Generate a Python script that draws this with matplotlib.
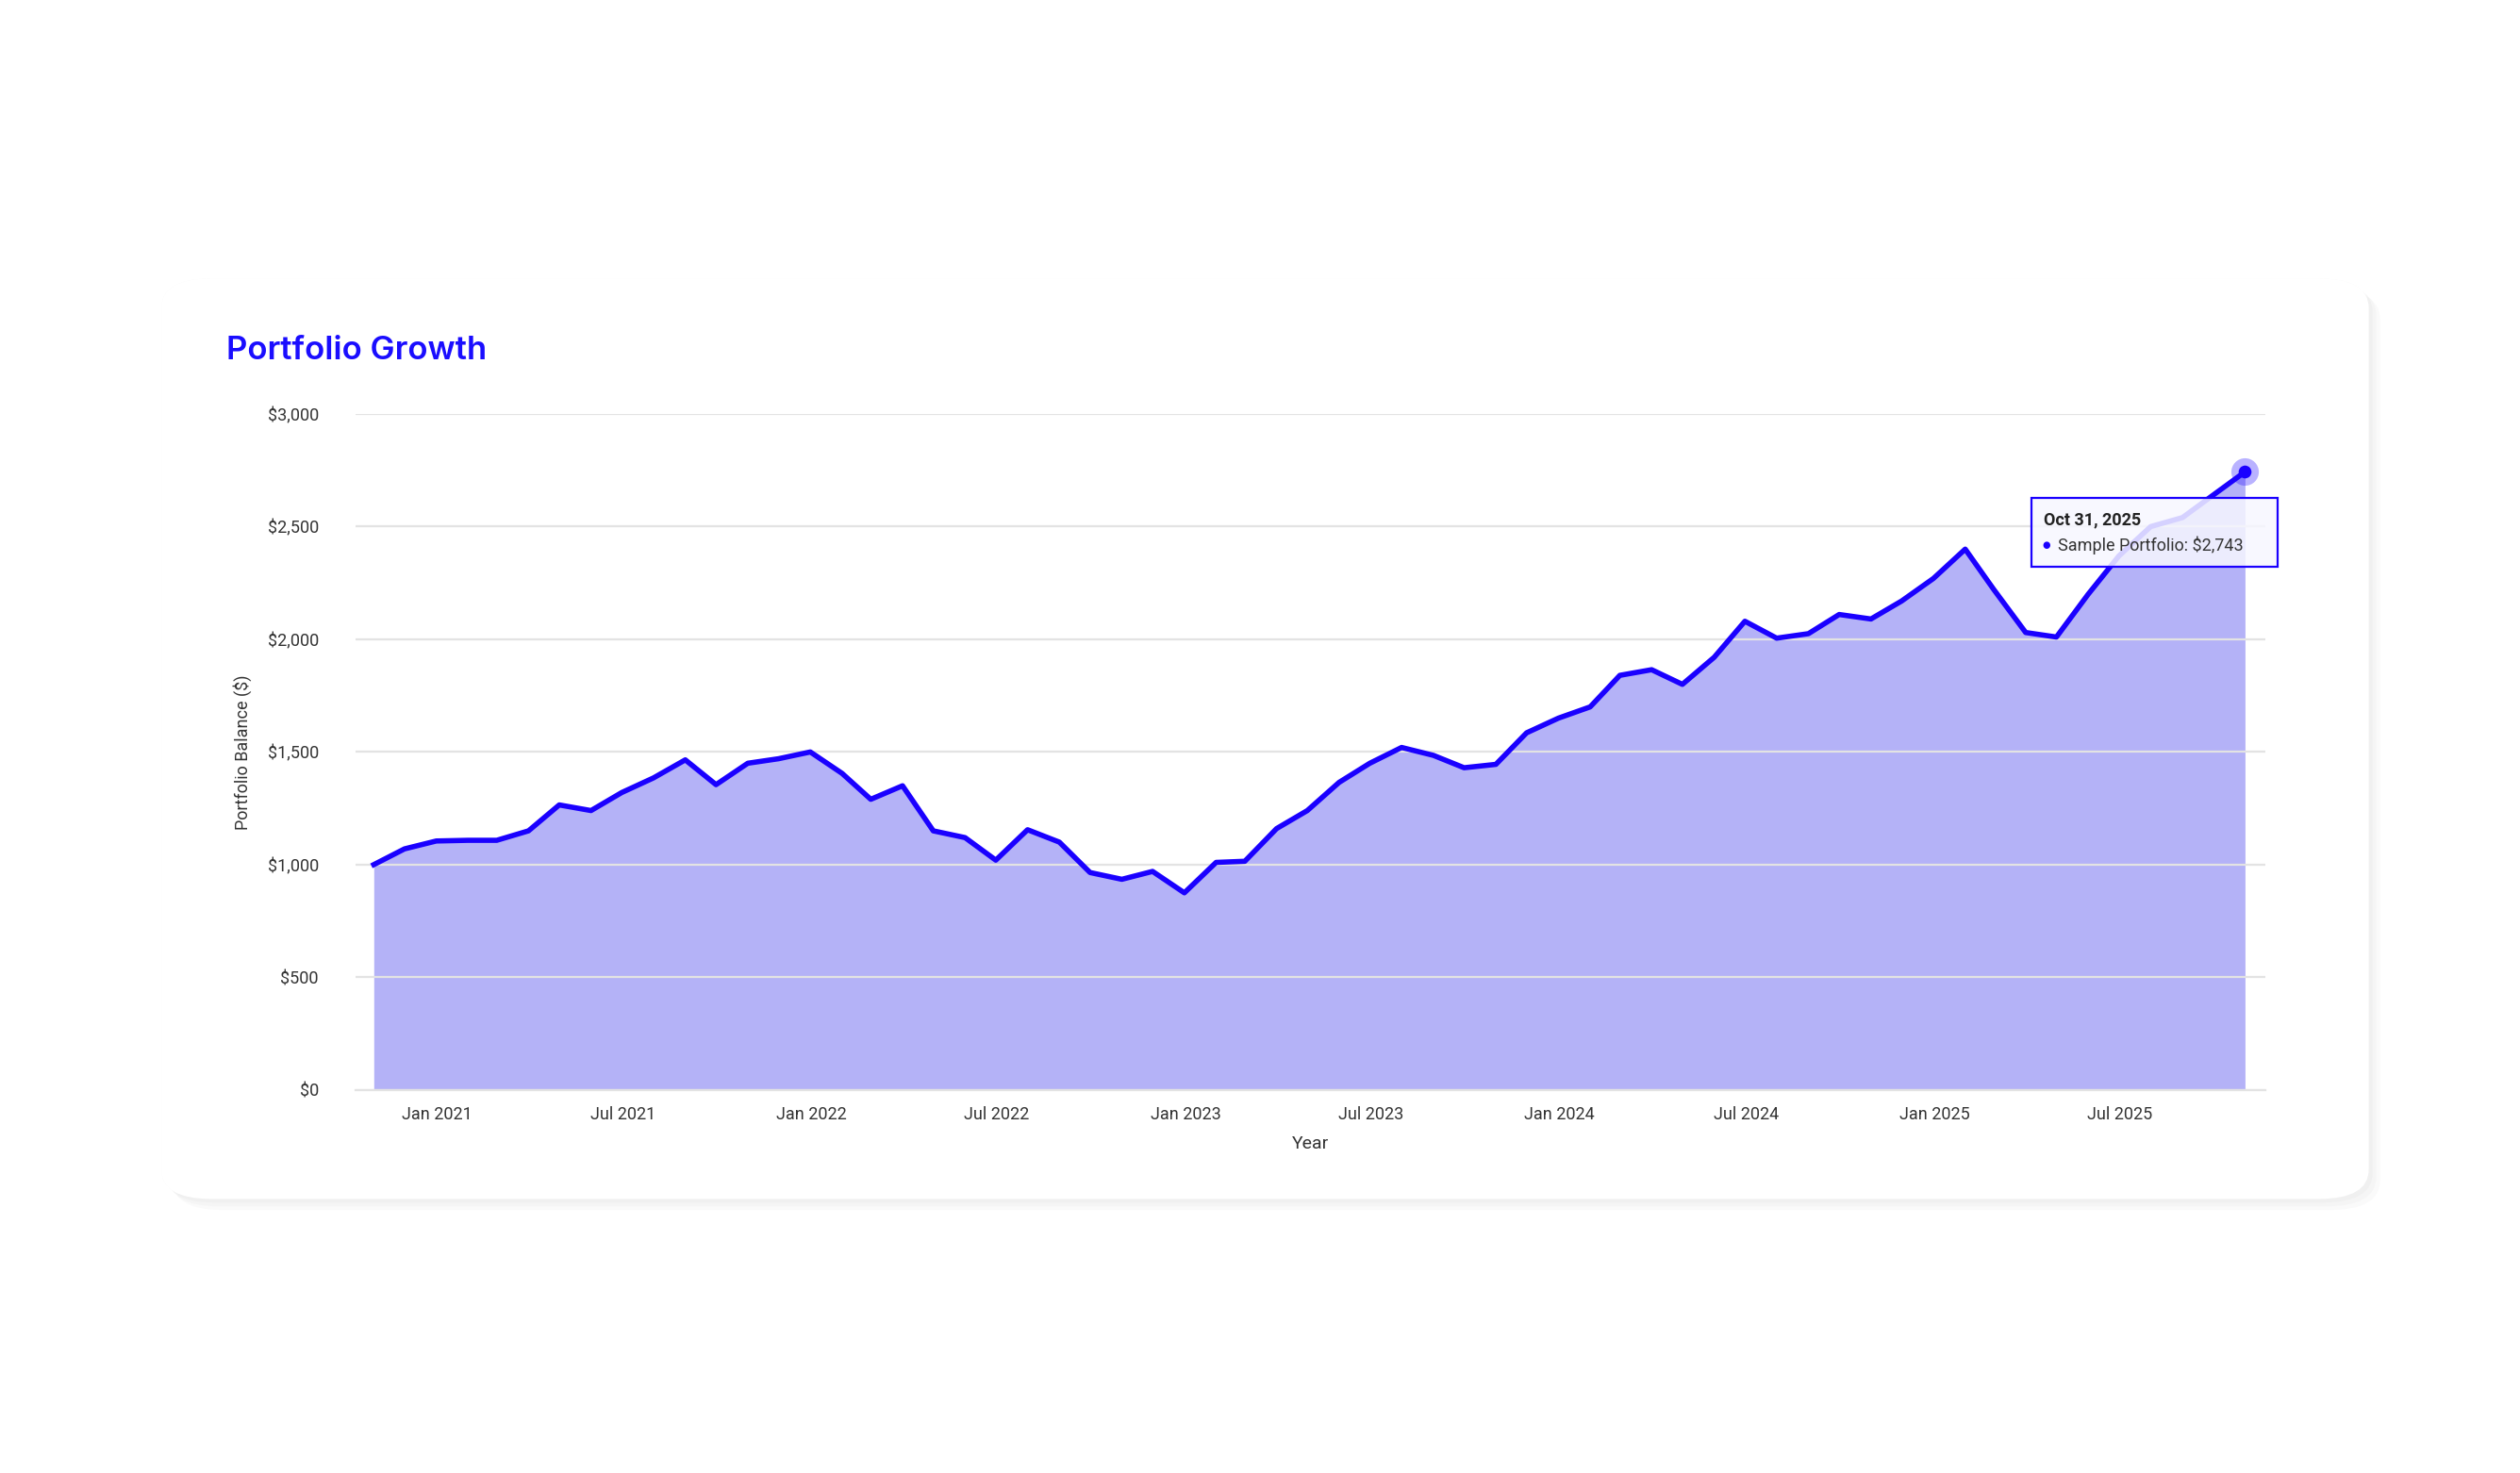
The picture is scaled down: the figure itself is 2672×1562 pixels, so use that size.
import numpy as np
import pandas as pd
import matplotlib
matplotlib.use("Agg")
import matplotlib.pyplot as plt
import matplotlib.dates as mdates
import matplotlib.ticker as ticker
from matplotlib.patches import FancyBboxPatch

# monthly end-of-month balances, Oct 2020 .. Oct 2025
balance = [1000, 1070, 1105, 1108, 1108, 1150, 1265, 1240, 1320, 1385,
           1465, 1355, 1450, 1470, 1500, 1405, 1290, 1350, 1150, 1120,
           1020, 1155, 1100, 965, 935, 970, 875, 1010, 1015, 1160,
           1240, 1365, 1450, 1520, 1485, 1430, 1445, 1585, 1650, 1700,
           1840, 1865, 1800, 1920, 2080, 2005, 2025, 2110, 2090, 2170,
           2270, 2400, 2220, 2030, 2010, 2200, 2370, 2500, 2540, 2640,
           2743]
dates = pd.date_range("2020-10-31", periods=len(balance), freq="ME")
series_name = "Sample Portfolio"

line_c = "#1a00ff"
fill_c = "#b4b2f7"

plt.rcParams["font.family"] = ["Roboto", "DejaVu Sans"]
fig = plt.figure(figsize=(13.36, 7.81), dpi=200)

# card background with soft shadow
for i in range(4):
    fig.patches.append(FancyBboxPatch((0.064 + 0.0015 * i, 0.186 - 0.0025 * i), 0.876, 0.625,
                                      boxstyle="round,pad=0,rounding_size=0.02",
                                      transform=fig.transFigure, fc="#000000", alpha=0.02,
                                      ec="none", zorder=0))
fig.patches.append(FancyBboxPatch((0.064, 0.186), 0.876, 0.625,
                                  boxstyle="round,pad=0,rounding_size=0.02",
                                  transform=fig.transFigure, fc="white", ec="none", zorder=1))

ax = fig.add_axes([0.141, 0.260, 0.758, 0.459], zorder=3)
ax.set_facecolor("none")
ax.fill_between(dates, balance, 0, color=fill_c, lw=0, zorder=2)
ax.plot(dates, balance, color=line_c, lw=2.0, zorder=3)

ax.set_ylim(0, 3000)
ax.set_xlim(pd.Timestamp("2020-10-13"), pd.Timestamp("2025-11-20"))
ax.yaxis.set_major_locator(ticker.MultipleLocator(500))
ax.yaxis.set_major_formatter(ticker.FuncFormatter(lambda v, p: f"${v:,.0f}"))
ax.xaxis.set_major_locator(mdates.MonthLocator(bymonth=[1, 7]))
ax.xaxis.set_major_formatter(mdates.DateFormatter("%b %Y"))
ax.grid(axis="y", color="#e3e3e3", lw=0.8, zorder=1)
ax.set_axisbelow(False)
for s in ["top", "right", "left"]:
    ax.spines[s].set_visible(False)
ax.spines["bottom"].set_color("#e3e3e3")
ax.tick_params(axis="both", length=0, labelsize=6.5, labelcolor="#333333")
ax.tick_params(axis="y", pad=14)
ax.tick_params(axis="x", pad=6)
ax.set_xlabel("Year", fontsize=7, color="#333333", labelpad=5)
ax.set_ylabel("Portfolio Balance ($)", fontsize=6.5, color="#333333", labelpad=6)

fig.text(0.090, 0.762, "Portfolio Growth", fontsize=12.5, color="#1a0dff",
         family=["Inter", "DejaVu Sans"], fontweight="semibold", va="center")

# highlighted last point
ax.scatter([dates[-1]], [balance[-1]], s=110, color=line_c, alpha=0.3, lw=0, zorder=4)
ax.scatter([dates[-1]], [balance[-1]], s=24, color=line_c, lw=0, zorder=5)

# tooltip
fig.patches.append(FancyBboxPatch((0.806, 0.615), 0.098, 0.047, boxstyle="square,pad=0",
                                  transform=fig.transFigure, fc=(0.97, 0.97, 1.0, 0.85),
                                  ec=line_c, lw=0.8, zorder=10))
fig.text(0.811, 0.647, f"{dates[-1]:%b %d, %Y}", fontsize=6.5, fontweight="bold",
         color="#222222", va="center", zorder=11)
fig.text(0.8105, 0.630, "\u25cf", fontsize=3.5, color=line_c, va="center", zorder=11)
fig.text(0.8165, 0.630, f"{series_name}: ${balance[-1]:,}", fontsize=6.5,
         color="#333333", va="center", zorder=11)

fig.savefig("out.png", dpi=200, facecolor="white")
